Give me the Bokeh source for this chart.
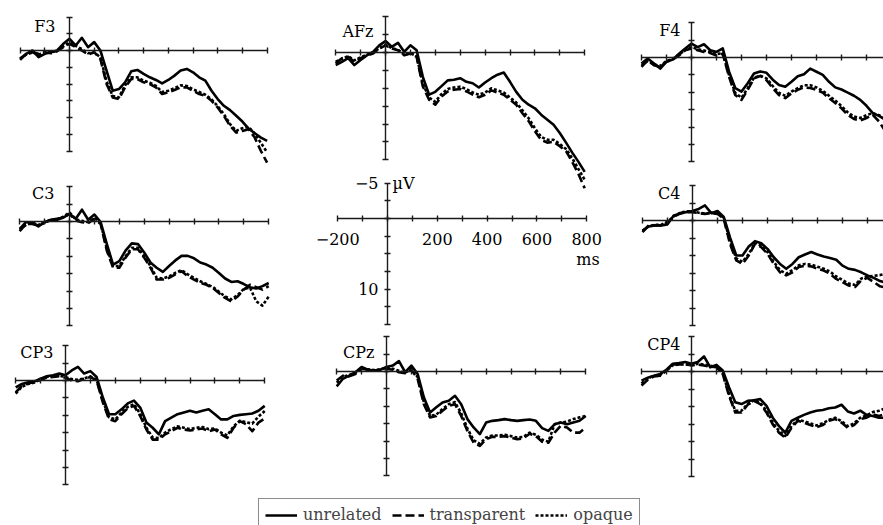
from bokeh.plotting import figure
from bokeh.models import Range1d, LinearAxis, FixedTicker, Label, Legend, LegendItem
from bokeh.embed import file_html
from bokeh.resources import INLINE

# ---------------- data (µV, negative plotted upward) ----------------
times = [-200, -175, -150, -125, -100, -75, -50, -25, 0, 25, 50, 75, 100, 125, 150, 175,
         200, 225, 250, 275, 300, 325, 350, 375, 400, 425, 450, 475, 500, 525, 550, 575,
         600, 625, 650, 675, 700, 725, 750, 775, 800]

conditions = ["unrelated", "transparent", "opaque"]
channels = ["F3", "AFz", "F4", "C3", "C4", "CP3", "CPz", "CP4"]

f3_unrelated = [1.25, 0.5, 0, 1, 0.5, 0.25, 0, -1, -1.75, -0.75, -1.9, -0.5, -1.25, 0, 3, 6, 5.75, 4.75, 3.1, 2.9, 3.5, 4, 4.4, 4.9, 4.4, 3.75, 3, 2.75, 3.25, 4, 4.5, 6, 7.25, 8.25, 8.9, 9.75, 10.6, 11.65, 12.35, 13, 13.5]
f3_transparent = [1.4, 0.5, 0.25, 0.5, 0.25, 0.4, 0.1, -0.5, -1, -0.5, 0, 0.6, 0.25, 1.25, 5, 7, 7.25, 5.5, 4.25, 4.25, 4.75, 5, 5.5, 6.5, 6.25, 5.9, 5.5, 5.5, 6, 6.5, 6.75, 7.5, 8.5, 9.75, 11.25, 12.25, 12, 11.75, 13, 15, 16.75]
f3_opaque = [1.2, 0.6, 0.3, 0.6, 0.3, 0.3, 0.0, -0.6, -1.2, -0.7, -0.2, 0.4, 0.3, 1.0, 4.6, 6.8, 7.0, 5.2, 4.0, 4.0, 4.5, 4.8, 5.3, 6.2, 6.0, 5.6, 5.2, 5.3, 5.8, 6.2, 6.6, 7.3, 8.3, 9.5, 11.0, 12.0, 11.6, 11.4, 12.4, 13.8, 15.2]

afz_unrelated = [1.75, 1.3, 0.8, 1.75, 1.05, 0.4, -0.1, -1, -1.6, -0.8, -1.35, -0.1, -1, -0.3, 3.4, 5.9, 5.5, 4.7, 3.9, 3.8, 3.6, 4.1, 4.3, 4.9, 4.2, 3.6, 3.1, 2.8, 4.1, 5.5, 6.6, 7.3, 7.8, 8.7, 9.4, 10.1, 11.25, 12.6, 14.0, 15.3, 16.7]
afz_transparent = [1.5, 0.8, 0.6, 1.3, 0.8, 0.4, 0.15, -0.55, -1, -0.55, -0.3, 0.4, 0.15, 0.6, 4.75, 6.6, 7.3, 6.15, 5.45, 5.2, 5.1, 5.45, 5.9, 6.25, 5.9, 5.3, 5.6, 5.9, 6.6, 7.3, 8.5, 9.6, 11, 12.2, 12.6, 12.5, 13.1, 13.8, 15.3, 17, 19]
afz_opaque = [1.3, 0.9, 0.5, 1.1, 0.7, 0.3, 0.0, -0.6, -1.1, -0.6, -0.4, 0.3, 0.1, 0.5, 4.4, 6.3, 6.9, 5.8, 5.1, 4.9, 4.8, 5.1, 5.6, 5.9, 5.6, 5.0, 5.3, 5.6, 6.3, 7.0, 8.1, 9.2, 10.6, 11.8, 12.2, 12.2, 12.8, 13.5, 14.8, 16.3, 17.8]

f4_unrelated = [0.85, 0.15, 0.85, 1.6, 0.6, 0.3, -0.55, -1.3, -2, -1.5, -1.9, -1.05, -0.8, -1.3, 2, 4.4, 4.9, 3.7, 2.3, 2, 2.2, 3.2, 3.95, 4.2, 3.5, 2.7, 2.4, 1.6, 2.05, 2.5, 3.5, 4.3, 4.6, 5.05, 5.5, 6.1, 6.95, 8, 8.4, 8.95, 9.7]
f4_transparent = [1.35, 0.4, 1.1, 1.35, 0.6, 0.3, -0.3, -1.05, -1.3, -1.05, -0.8, -0.65, -0.3, -0.55, 2.75, 5.4, 6.1, 4.65, 3, 2.65, 3.25, 4.4, 5.4, 5.85, 5.15, 4.65, 4.3, 4.4, 4.65, 5.05, 5.85, 6.55, 7.3, 8.25, 8.85, 9.05, 8.7, 8.25, 9.2, 10.6, 11.8]
f4_opaque = [1.1, 0.5, 1.0, 1.2, 0.5, 0.2, -0.4, -1.1, -1.5, -1.2, -1.0, -0.8, -0.5, -0.6, 2.5, 5.1, 5.8, 4.4, 2.9, 2.6, 3.0, 4.1, 5.1, 5.5, 4.9, 4.4, 4.0, 4.0, 4.3, 4.8, 5.5, 6.2, 7.0, 7.9, 8.5, 8.7, 8.3, 8.0, 8.3, 8.9, 9.6]

c3_unrelated = [1.05, 0.1, 0.1, 0.7, 0.1, -0.25, -0.4, -0.55, -1.1, -0.4, -1.7, -0.25, -1, 0.1, 3.25, 6.2, 5.7, 4.2, 3.15, 3.25, 4.45, 5.9, 6.65, 7.25, 6.4, 5.6, 4.95, 4.95, 5.3, 5.9, 6.2, 6.65, 7.4, 8.2, 8.7, 8.6, 9, 9.45, 9.65, 9.3, 8.85]
c3_transparent = [1.4, 0.35, 0.35, 0.6, 0.1, -0.25, -0.25, -0.6, -1.1, -0.15, 0.1, 0.25, -0.4, 0.35, 4.2, 6.65, 6.65, 5.2, 4, 4, 5.2, 6.65, 8.35, 8.35, 8.1, 7.6, 7.15, 7.85, 8.35, 8.85, 9.1, 9.55, 10.3, 11, 11.5, 10.8, 9.8, 9.1, 9.45, 9.8, 9.3]
c3_opaque = [1.2, 0.5, 0.2, 0.5, 0.2, -0.2, -0.3, -0.7, -1.3, -0.3, -0.1, 0.1, -0.5, 0.2, 3.9, 6.4, 6.4, 5.0, 3.8, 3.8, 5.0, 6.4, 8.1, 8.2, 7.9, 7.4, 7.0, 7.6, 8.1, 8.6, 9.0, 9.4, 10.1, 10.8, 11.2, 10.6, 9.7, 9.5, 11.5, 12.1, 10.8]

c4_unrelated = [1.45, 0.85, 0.7, 0.7, 0.55, -0.7, -0.95, -1.2, -1.35, -1.65, -2.15, -1.05, -1.35, -0.5, 2.4, 5, 5, 3.7, 2.95, 3.25, 4.05, 5.25, 6.2, 6.9, 6.2, 5.25, 4.85, 4.5, 4.85, 5.15, 5.35, 5.6, 6.45, 6.9, 7.05, 7.4, 7.85, 8.2, 8.65, 8.9, 9.1]
c4_transparent = [1.65, 0.7, 0.7, 0.7, 0.25, -0.5, -1.05, -1.2, -1.2, -1.05, -0.95, -1.05, -0.95, -0.25, 3.35, 5.7, 6.2, 5, 3.35, 3.8, 4.75, 6.2, 7.4, 7.85, 7.4, 6.65, 6.45, 6.55, 6.9, 7.15, 7.6, 8.35, 8.8, 9.3, 9.5, 8.55, 8.2, 8.8, 9.4, 9.6, 9.75]
c4_opaque = [1.5, 0.8, 0.6, 0.6, 0.2, -0.6, -1.1, -1.3, -1.3, -1.1, -1.0, -1.1, -1.0, -0.4, 3.0, 5.4, 5.9, 4.8, 3.2, 3.6, 4.5, 5.9, 7.1, 7.6, 7.1, 6.4, 6.2, 6.3, 6.6, 6.9, 7.3, 8.0, 8.5, 9.0, 9.2, 8.3, 8.0, 7.9, 7.8, 7.6, 7.4]

cp3_unrelated = [1, 0.5, 0.25, 0.15, -0.25, -0.6, -0.75, -1, -0.75, -1.45, -1.95, -1, -1.35, -0.5, 2.45, 4.85, 4.85, 4.15, 3.3, 2.9, 3.9, 6.05, 6.8, 7.75, 5.85, 5.35, 4.85, 4.6, 4.35, 4.6, 4.35, 4.15, 4.85, 5.6, 5.6, 5.1, 4.95, 4.85, 4.75, 4.35, 3.65]
cp3_transparent = [1.7, 0.75, 0.4, 0.25, -0.1, -0.4, -0.5, -0.6, -0.4, 0, 0.1, -0.25, -0.5, 0, 3.15, 5.6, 5.85, 4.85, 4, 3.65, 5.1, 7.05, 8.5, 8.5, 7.75, 7.3, 6.8, 7.05, 7.2, 7.05, 6.9, 7.3, 7.05, 7.75, 8.25, 6.8, 5.85, 6.3, 7.3, 6.05, 5.45]
cp3_opaque = [1.9, 0.9, 0.5, 0.3, -0.2, -0.5, -0.6, -0.7, -0.5, -0.2, -0.1, -0.3, -0.6, -0.1, 2.9, 5.3, 5.6, 4.6, 3.8, 3.4, 4.8, 6.8, 8.2, 8.3, 7.5, 7.0, 6.6, 6.8, 7.0, 6.8, 6.7, 7.0, 6.9, 7.5, 7.9, 6.6, 5.8, 6.0, 6.2, 5.2, 4.4]

cpz_unrelated = [2.15, 1.05, 0.6, 0.1, -0.65, -0.25, -0.15, -0.25, -0.65, -0.85, -1.5, 0.1, -0.85, 0.35, 3.7, 5.9, 5.15, 4.45, 4.2, 3.5, 4.7, 6.85, 8.05, 9, 7.35, 7.1, 7, 6.85, 7, 7.1, 7, 6.9, 7.1, 8.15, 8.55, 7.6, 7.35, 7.6, 7.35, 7.1, 6.4]
cpz_transparent = [1.3, 0.6, 0.7, 0.35, -0.4, -0.25, -0.15, -0.25, -0.4, -0.25, 0.1, 0.25, -0.25, 1.05, 4.7, 6.6, 6.4, 5.65, 4.95, 4.7, 6.4, 8.55, 10.25, 10.7, 9.75, 9.4, 9.4, 9.3, 9.5, 9.75, 9.6, 8.95, 9.3, 10.1, 10.25, 8.8, 7.8, 8.05, 8.8, 8.8, 8.05]
cpz_opaque = [1.6, 0.8, 0.5, 0.2, -0.5, -0.3, -0.2, -0.3, -0.6, -0.4, -0.1, 0.2, -0.4, 0.8, 4.4, 6.4, 6.2, 5.4, 4.7, 4.4, 6.0, 8.2, 9.9, 10.4, 9.5, 9.2, 9.2, 9.1, 9.3, 9.5, 9.4, 8.8, 9.1, 9.8, 10.1, 7.6, 7.35, 7.2, 6.85, 6.6, 6.4]

cp4_unrelated = [1.3, 0.9, 0.6, 0.35, -0.25, -1.1, -1.2, -1.35, -1.1, -1.35, -2.15, -0.6, -0.95, -0.15, 2.25, 4.4, 4.65, 4.2, 4.1, 3.95, 4.9, 6.6, 7.8, 8.75, 7.05, 6.6, 6.2, 5.85, 5.6, 5.5, 5.25, 5.15, 4.75, 5.7, 6, 5.6, 6.2, 6.35, 6.6, 6.6, 6.7]
cp4_transparent = [2, 1.2, 0.7, 0.6, -0.15, -1, -1, -1.1, -0.85, -1, -0.85, -0.7, -0.6, 0.35, 3.45, 5.85, 5.85, 4.75, 4.2, 4.65, 5.85, 7.55, 8.75, 9.45, 8.05, 7.05, 7.3, 7.65, 7.95, 7.65, 7.05, 6.8, 7.3, 8.05, 7.65, 6.8, 6.6, 6.1, 6.35, 6.1, 6.2]
cp4_opaque = [1.7, 1.0, 0.6, 0.5, -0.2, -0.9, -1.0, -1.0, -0.9, -1.1, -1.0, -0.8, -0.7, 0.2, 3.2, 5.6, 5.6, 4.6, 4.1, 4.5, 5.6, 7.3, 8.5, 9.2, 7.8, 6.9, 7.1, 7.4, 7.7, 7.4, 6.9, 6.6, 7.1, 7.8, 7.4, 6.6, 6.3, 5.8, 5.6, 5.25, 5.25]

x_ticks = [-200, -100, 0, 100, 200, 300, 400, 500, 600, 700, 800]
y_ticks = [-5, -2.5, 0, 2.5, 5, 7.5, 10, 12.5, 15]
x_tick_labels = {-200: "\u2212200", 200: "200", 400: "400", 600: "600", 800: "800"}
y_tick_labels = {-5: "\u22125", 10: "10"}

series = {
    "F3": [f3_unrelated, f3_transparent, f3_opaque],
    "AFz": [afz_unrelated, afz_transparent, afz_opaque],
    "F4": [f4_unrelated, f4_transparent, f4_opaque],
    "C3": [c3_unrelated, c3_transparent, c3_opaque],
    "C4": [c4_unrelated, c4_transparent, c4_opaque],
    "CP3": [cp3_unrelated, cp3_transparent, cp3_opaque],
    "CPz": [cpz_unrelated, cpz_transparent, cpz_opaque],
    "CP4": [cp4_unrelated, cp4_transparent, cp4_opaque],
}

# ---------------- layout (picture pixels) ----------------
W, H = 883, 525
OX, OY = 0, 0
# name: (x of t=0, px per ms, y of 0 µV, px per µV, label dx, label dy)
panels = {
    "F3": (69, 0.247, 50, 6.7, -14, 9),
    "AFz": (385, 0.249, 52, 7.15, -12, 15),
    "F4": (691, 0.25, 57, 6.95, -11, 8),
    "C3": (69, 0.249, 221, 6.95, -15, 7),
    "scale": (387, 0.249, 218, 7.05, 0, 0),
    "C4": (692, 0.25, 220, 7.0, -12, 8),
    "CP3": (65, 0.249, 380, 6.95, -12, 7),
    "CPz": (386, 0.249, 371, 6.95, -12, 16),
    "CP4": (691, 0.25, 371, 7.0, -11, 8),
}

FONT = "DejaVu Serif"
INK = "#1a1a1a"
styles = [dict(line_dash="solid"), dict(line_dash="9 4"), dict(line_dash="3 2")]

p = figure(width=W, height=H, output_backend="svg", toolbar_location=None,
           x_axis_type=None, y_axis_type=None, x_range=Range1d(0, 1), y_range=Range1d(0, 1),
           min_border=0, outline_line_color=None, background_fill_color="white")
p.grid.visible = False

for name, (x0, k, z, m, ldx, ldy) in panels.items():
    xn, yn = "x_" + name, "y_" + name
    p.extra_x_ranges[xn] = Range1d((OX - x0) / k, (OX + W - x0) / k)
    p.extra_y_ranges[yn] = Range1d((OY + H - z) / m, (OY - z) / m)

    is_scale = name == "scale"
    common = dict(x_range_name=xn, y_range_name=yn, fixed_location=0,
                  axis_line_color=INK, axis_line_width=1.4,
                  major_tick_line_color=INK, major_tick_line_width=1.4,
                  major_tick_in=3, major_tick_out=3, minor_tick_line_color=None,
                  major_label_text_font=FONT, major_label_text_font_size="16px",
                  major_label_text_color="black" if is_scale else None)
    xa = LinearAxis(ticker=FixedTicker(ticks=x_ticks), bounds=(-200, 800),
                    major_label_standoff=11, **common)
    ya = LinearAxis(ticker=FixedTicker(ticks=y_ticks), bounds=(-5, 15),
                    major_label_standoff=6, **common)
    if is_scale:
        xa.major_label_overrides = {t: x_tick_labels.get(t, "") for t in x_ticks}
        ya.major_label_overrides = {t: y_tick_labels.get(t, "") for t in y_ticks}
    p.add_layout(xa, "below")
    p.add_layout(ya, "left")

    if is_scale:
        p.add_layout(Label(x=0, y=-5, x_range_name=xn, y_range_name=yn, text="\u00b5V",
                           x_offset=5, text_baseline="middle", text_font=FONT,
                           text_font_size="16px", text_color="black"))
        p.add_layout(Label(x=800, y=0, x_range_name=xn, y_range_name=yn, text="ms",
                           x_offset=13, y_offset=-41, text_align="right",
                           text_baseline="alphabetic", text_font=FONT,
                           text_font_size="16px", text_color="black"))
        continue

    p.add_layout(Label(x=0, y=-5, x_range_name=xn, y_range_name=yn, text=name,
                       x_offset=ldx, y_offset=-ldy, text_align="right",
                       text_baseline="alphabetic", text_font=FONT,
                       text_font_size="16px", text_color="black"))

    rs = []
    for vals, st in zip(series[name], styles):
        r = p.line(times, vals, x_range_name=xn, y_range_name=yn, line_color="black",
                   line_width=2.6, line_join="round", **st)
        rs.append(r)
    if name == "F3":
        legend_renderers = rs

legend = Legend(items=[LegendItem(label=c, renderers=[r]) for c, r in zip(conditions, legend_renderers)],
                location=(258, -6), orientation="horizontal",
                border_line_color=INK, border_line_width=1.5,
                background_fill_color="white", background_fill_alpha=1,
                label_text_font=FONT, label_text_font_size="16px",
                glyph_width=32, glyph_height=16, label_standoff=6, spacing=10,
                padding=6, margin=0)
p.add_layout(legend)

open("out.html", "w").write(file_html(p, INLINE))
